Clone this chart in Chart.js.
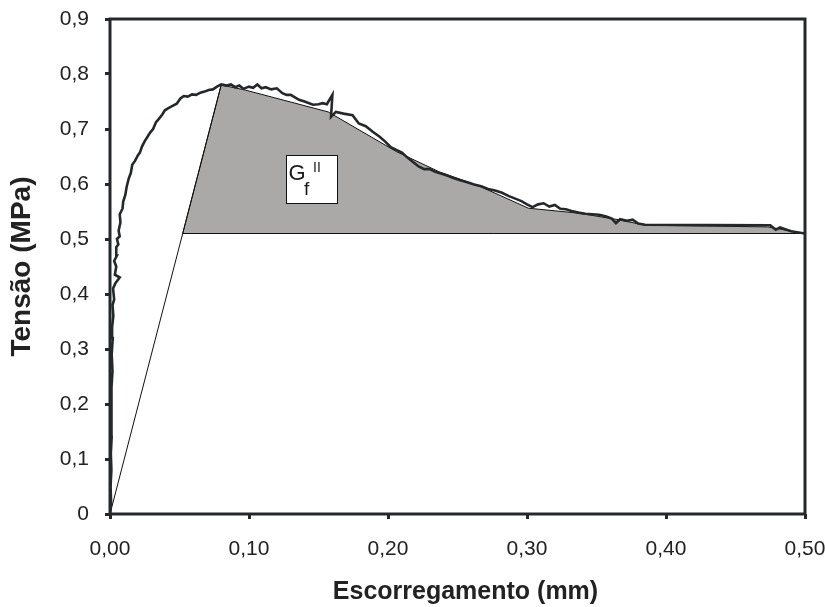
<!DOCTYPE html>
<html>
<head>
<meta charset="utf-8">
<title>Tensão x Escorregamento</title>
<script src="https://cdn.jsdelivr.net/npm/chart.js@4.4.1/dist/chart.umd.min.js"></script>
<style>
  html, body { margin: 0; padding: 0; background: #fff; }
  #wrap { width: 825px; height: 607px; position: relative; }
</style>
</head>
<body>
<div id="wrap"><canvas id="slipChart"></canvas></div>
<script>
// --- Data ---
// Ensaio: escorregamento (mm) x tensão (MPa)
const slipX = [
  0, 0.0008, 0.0004, 0.0010, 0.0006, 0.0012, 0.0008, 0.0014, 0.0010, 0.0018,
  0.0012, 0.0020, 0.0015, 0.0024, 0.0018, 0.0030, 0.0022, 0.0040, 0.0070, 0.0035,
  0.0045, 0.0030, 0.0050, 0.0045, 0.0060, 0.0050, 0.0070, 0.0062, 0.0075, 0.0070,
  0.0090, 0.0095, 0.0110, 0.0120, 0.0135, 0.0150, 0.0160, 0.0180, 0.0200, 0.0215,
  0.0230, 0.0250, 0.0270, 0.0290, 0.0310, 0.0330, 0.0350, 0.0375, 0.0395, 0.0420,
  0.0450, 0.0480, 0.0505, 0.0530, 0.0560, 0.0590, 0.0620, 0.0650, 0.0680, 0.0710,
  0.0740, 0.0770, 0.0800, 0.0840, 0.0870, 0.0900, 0.0930, 0.0960, 0.1000, 0.1030,
  0.1060, 0.1090, 0.1120, 0.1160, 0.1200, 0.1240, 0.1270, 0.1300, 0.1360, 0.1400,
  0.1460, 0.1500, 0.1530, 0.1560, 0.1600, 0.1590, 0.1625, 0.1680, 0.1745, 0.1790,
  0.1840, 0.1890, 0.1940, 0.1980, 0.2020, 0.2060, 0.2100, 0.2140, 0.2180, 0.2220,
  0.2260, 0.2300, 0.2340, 0.2380, 0.2420, 0.2470, 0.2520, 0.2570, 0.2620, 0.2670,
  0.2720, 0.2770, 0.2820, 0.2870, 0.2920, 0.2960, 0.3000, 0.3040, 0.3080, 0.3120,
  0.3160, 0.3200, 0.3240, 0.3280, 0.3320, 0.3370, 0.3420, 0.3470, 0.3520, 0.3570,
  0.3610, 0.3640, 0.3670, 0.3720, 0.3760, 0.3800, 0.3850, 0.4750, 0.4790, 0.4820,
  0.4900, 0.5000
];
const stressY = [
  0, 0.02, 0.05, 0.08, 0.11, 0.14, 0.17, 0.20, 0.23, 0.26,
  0.29, 0.32, 0.34, 0.36, 0.38, 0.39, 0.41, 0.42, 0.43, 0.435,
  0.45, 0.46, 0.47, 0.485, 0.49, 0.50, 0.505, 0.515, 0.53, 0.545,
  0.555, 0.568, 0.58, 0.595, 0.61, 0.62, 0.635, 0.642, 0.652, 0.657,
  0.668, 0.678, 0.686, 0.694, 0.700, 0.712, 0.718, 0.726, 0.734, 0.738,
  0.742, 0.746, 0.755, 0.760, 0.759, 0.763, 0.762, 0.766, 0.768, 0.771,
  0.772, 0.777, 0.781, 0.779, 0.781, 0.776, 0.779, 0.773, 0.777, 0.775,
  0.781, 0.774, 0.776, 0.772, 0.774, 0.765, 0.762, 0.762, 0.753, 0.750,
  0.744, 0.745, 0.747, 0.745, 0.762, 0.722, 0.731, 0.728, 0.725, 0.710,
  0.705, 0.695, 0.686, 0.677, 0.667, 0.662, 0.657, 0.648, 0.640, 0.632,
  0.627, 0.627, 0.622, 0.619, 0.616, 0.611, 0.607, 0.603, 0.599, 0.596,
  0.591, 0.588, 0.584, 0.578, 0.573, 0.569, 0.563, 0.558, 0.563, 0.565,
  0.559, 0.562, 0.555, 0.554, 0.551, 0.548, 0.546, 0.545, 0.544, 0.541,
  0.537, 0.529, 0.536, 0.533, 0.535, 0.528, 0.526, 0.525, 0.517, 0.521,
  0.514, 0.510
];

// área G_f^II: contorno superior simplificado, acima da tensão residual
const areaX = [0.0523, 0.080, 0.097, 0.157, 0.206, 0.237, 0.265, 0.301, 0.337, 0.366, 0.385, 0.473, 0.500];
const areaY = [0.51, 0.78, 0.771, 0.731, 0.659, 0.622, 0.597, 0.556, 0.547, 0.535, 0.525, 0.522, 0.51];
const residualStress = 0.51;

// reta de carregamento (origem até o pico)
const loadX = [0, 0.080];
const loadY = [0, 0.78];

const xTickValues = [0, 0.1, 0.2, 0.3, 0.4, 0.5];
const xTickLabels = ['0,00', '0,10', '0,20', '0,30', '0,40', '0,50'];
const yTickValues = [0, 0.1, 0.2, 0.3, 0.4, 0.5, 0.6, 0.7, 0.8, 0.9];
const yTickLabels = ['0', '0,1', '0,2', '0,3', '0,4', '0,5', '0,6', '0,7', '0,8', '0,9'];

const labelAt = [0.145, 0.609];
const xTitle = 'Escorregamento (mm)';

// --- Helpers ---
function toPoints(xs, ys) {
  return xs.map((x, i) => ({ x: x, y: ys[i] }));
}

const ink = '#25282b';
const fontFamily = 'Arial, "Liberation Sans", sans-serif';

// frame around the plot area, the G_f^II box and the x title
const framePlugin = {
  id: 'frameAndLabel',
  afterDatasetsDraw(chart) {
    const ctx = chart.ctx;
    const a = chart.chartArea;
    const sx = chart.scales.x, sy = chart.scales.y;

    // label box
    const cx = sx.getPixelForValue(labelAt[0]);
    const cy = sy.getPixelForValue(labelAt[1]);
    ctx.save();
    ctx.fillStyle = '#fff';
    ctx.strokeStyle = '#111';
    ctx.lineWidth = 1;
    ctx.fillRect(cx - 25.5, cy - 24, 51, 48);
    ctx.strokeRect(Math.round(cx - 25.5) + 0.5, Math.round(cy - 24) + 0.5, 51, 48);
    ctx.fillStyle = '#1a1a1a';
    ctx.textBaseline = 'alphabetic';
    ctx.font = '22px ' + fontFamily;
    ctx.fillText('G', cx - 23, cy + 1);
    ctx.font = '19px ' + fontFamily;
    ctx.fillText('f', cx - 7.5, cy + 16);
    ctx.font = '14px ' + fontFamily;
    ctx.fillText('II', cx + 1.5, cy - 7.5);
    ctx.restore();

    // frame
    ctx.save();
    ctx.strokeStyle = ink;
    ctx.lineWidth = 3;
    ctx.strokeRect(a.left, a.top, a.right - a.left, a.bottom - a.top);
    ctx.restore();

    // x axis title, a bit right of the plot centre
    ctx.save();
    ctx.fillStyle = '#222';
    ctx.font = 'bold 25px ' + fontFamily;
    ctx.textAlign = 'center';
    ctx.textBaseline = 'alphabetic';
    ctx.fillText(xTitle, (a.left + a.right) / 2 + 8, chart.height - 8);
    ctx.restore();
  }
};

document.addEventListener('DOMContentLoaded', function() {
  const ctx = document.getElementById('slipChart').getContext('2d');

  new Chart(ctx, {
    type: 'scatter',
    data: {
      datasets: [
        {
          label: 'Ensaio',
          data: toPoints(slipX, stressY),
          showLine: true,
          borderColor: ink,
          borderWidth: 2.6,
          pointRadius: 0,
          tension: 0,
          order: 0
        },
        {
          label: 'Reta de carregamento',
          data: toPoints(loadX, loadY),
          showLine: true,
          borderColor: '#111',
          borderWidth: 1,
          pointRadius: 0,
          order: 1
        },
        {
          label: 'Tensão residual',
          data: toPoints([areaX[0], areaX[areaX.length - 1]], [residualStress, residualStress]),
          showLine: true,
          borderColor: '#111',
          borderWidth: 1,
          pointRadius: 0,
          order: 2
        },
        {
          label: 'Gf',
          data: toPoints(areaX, areaY),
          showLine: true,
          borderColor: '#111',
          borderWidth: 1,
          backgroundColor: '#aaa9a7',
          fill: { value: residualStress },
          pointRadius: 0,
          order: 3
        }
      ]
    },
    options: {
      responsive: true,
      maintainAspectRatio: false,
      animation: false,
      layout: { padding: { top: 19, right: 20, bottom: 0, left: 0 } },
      plugins: {
        legend: { display: false },
        tooltip: { enabled: false }
      },
      scales: {
        x: {
          type: 'linear',
          min: 0,
          max: 0.5,
          afterBuildTicks: s => { s.ticks = xTickValues.map(v => ({ value: v })); },
          afterFit: s => { s.height = 93; s.paddingLeft = 0; s.paddingRight = 0; s.paddingTop = 0; s.paddingBottom = 0; },
          border: { display: false },
          grid: { drawOnChartArea: false, drawTicks: true, tickLength: 5, color: ink, lineWidth: 3 },
          ticks: {
            padding: 18,
            color: '#222',
            font: { family: fontFamily, size: 21 },
            maxRotation: 0,
            callback: (v, i) => xTickLabels[i]
          },
          title: { display: false }
        },
        y: {
          type: 'linear',
          min: 0,
          max: 0.9,
          afterBuildTicks: s => { s.ticks = yTickValues.map(v => ({ value: v })); },
          afterFit: s => { s.width = 110; s.paddingTop = 0; s.paddingBottom = 0; s.paddingLeft = 0; s.paddingRight = 0; },
          border: { display: false },
          grid: { drawOnChartArea: false, drawTicks: true, tickLength: 5, color: ink, lineWidth: 3 },
          ticks: {
            padding: 16,
            color: '#222',
            font: { family: fontFamily, size: 21 },
            callback: (v, i) => yTickLabels[i]
          },
          title: {
            display: true,
            text: 'Tensão (MPa)',
            color: '#222',
            font: { family: fontFamily, size: 28, weight: 'bold' },
            padding: { top: 5, bottom: 0 }
          }
        }
      }
    },
    plugins: [framePlugin]
  });
});
</script>
</body>
</html>
